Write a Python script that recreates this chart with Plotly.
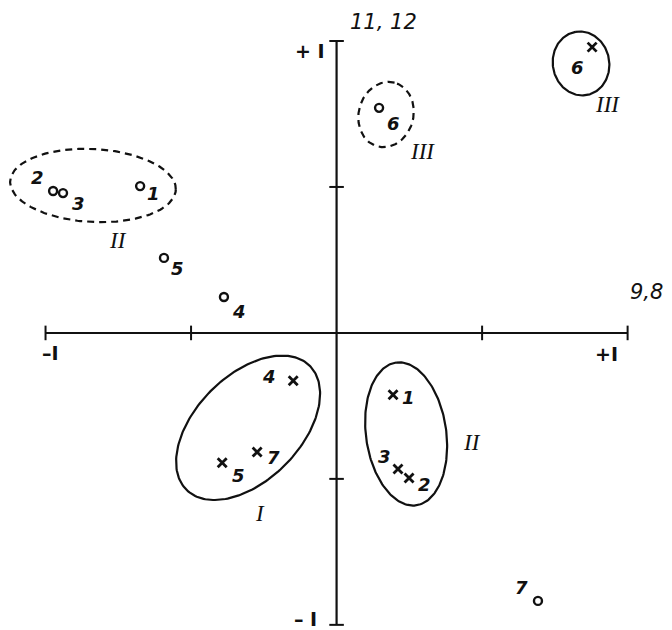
import numpy as np
import plotly.graph_objects as go

# Factor loadings (axis 9,8 horizontal, 11,12 vertical)
point_ids = ["1", "2", "3", "4", "5", "6", "7"]
circle_x = [-0.675, -0.974, -0.940, -0.387, -0.593, 0.146, 0.692]
circle_y = [0.503, 0.486, 0.479, 0.123, 0.257, 0.771, -0.918]
cross_x = [0.194, 0.249, 0.211, -0.149, -0.393, 0.878, -0.273]
cross_y = [-0.212, -0.497, -0.466, -0.164, -0.445, 0.979, -0.408]

# groups: (centre x, centre y, semi-axis a, semi-axis b, angle deg, dashed)
groups = [
    (-0.837, 0.505, 0.285, 0.125, -3, True),    # II (circles)
    (0.170, 0.748, 0.113, 0.094, 75, True),     # III (circles)
    (0.840, 0.923, 0.110, 0.097, 100, False),   # III (crosses)
    (-0.304, -0.325, 0.300, 0.180, 45, False),  # I (crosses)
    (0.239, -0.346, 0.247, 0.138, 98, False),   # II (crosses)
]
group_names = ["II", "III", "III", "I", "II"]
group_label_x = [-0.750, 0.296, 0.932, -0.264, 0.465]
group_label_y = [0.318, 0.620, 0.781, -0.620, -0.376]

# pixel offsets of number labels (style only)
circle_off = [(13, -7), (-16, 14), (15, -10), (15, -14), (14, -11), (14, -16), (-16, 13)]
cross_off = [(15, -3), (15, -6), (-13, 12), (-24, 4), (16, -13), (-15, -20), (16, -5)]

fig = go.Figure()

ink = "#111111"

# axes drawn by hand
fig.add_trace(go.Scatter(x=[-1, 1], y=[0, 0], mode="lines",
                         line=dict(color=ink, width=2), hoverinfo="skip"))
fig.add_trace(go.Scatter(x=[0, 0], y=[-1, 1], mode="lines",
                         line=dict(color=ink, width=2.2), hoverinfo="skip"))
tk = 0.025
for t in [-1, -0.5, 0.5, 1]:
    fig.add_trace(go.Scatter(x=[t, t], y=[-tk, tk], mode="lines",
                             line=dict(color=ink, width=2), hoverinfo="skip"))
    fig.add_trace(go.Scatter(x=[-tk, tk], y=[t, t], mode="lines",
                             line=dict(color=ink, width=2), hoverinfo="skip"))

# group outlines
th = np.linspace(0, 2 * np.pi, 200)
for cx, cy, a, b, ang, dashed in groups:
    r = np.radians(ang)
    ex = cx + a * np.cos(th) * np.cos(r) - b * np.sin(th) * np.sin(r)
    ey = cy + a * np.cos(th) * np.sin(r) + b * np.sin(th) * np.cos(r)
    fig.add_trace(go.Scatter(x=ex, y=ey, mode="lines", hoverinfo="skip",
                             line=dict(color=ink, width=2.2,
                                       dash="7px,5px" if dashed else "solid")))

fig.add_trace(go.Scatter(x=circle_x, y=circle_y, mode="markers",
                         marker=dict(symbol="circle-open", size=8, color=ink,
                                     line=dict(width=2.4, color=ink))))
fig.add_trace(go.Scatter(x=cross_x, y=cross_y, mode="markers",
                         marker=dict(symbol="x-thin", size=9, color=ink,
                                     line=dict(width=2.8, color=ink))))

hand = dict(family="DejaVu Sans", size=18, color=ink, style="italic", weight="bold")
for i, pid in enumerate(point_ids):
    fig.add_annotation(x=circle_x[i], y=circle_y[i], text=pid, showarrow=False,
                       xshift=circle_off[i][0], yshift=circle_off[i][1], font=hand)
    fig.add_annotation(x=cross_x[i], y=cross_y[i], text=pid, showarrow=False,
                       xshift=cross_off[i][0], yshift=cross_off[i][1], font=hand)

roman = dict(family="Liberation Serif", size=23, color=ink, style="italic")
for name, gx, gy in zip(group_names, group_label_x, group_label_y):
    fig.add_annotation(x=gx, y=gy, text=name, showarrow=False, font=roman)

# axis captions and end values
big = dict(family="DejaVu Sans", size=21, color=ink, style="italic")
fig.add_annotation(x=0.16, y=1.065, text="11, 12", showarrow=False, font=big)
fig.add_annotation(x=1.065, y=0.14, text="9,8", showarrow=False, font=big)
val = dict(family="DejaVu Sans", size=19, color=ink, weight="bold")
fig.add_annotation(x=0, y=1, text="+ I", showarrow=False, xshift=-27, yshift=-10, font=val)
fig.add_annotation(x=0, y=-1, text="– I", showarrow=False, xshift=-31, yshift=6, font=val)
fig.add_annotation(x=-1, y=0, text="–I", showarrow=False, xshift=5, yshift=-20, font=val)
fig.add_annotation(x=1, y=0, text="+I", showarrow=False, xshift=-21, yshift=-21, font=val)

# ranges offset by the page's 8px body margin
fig.update_xaxes(range=[-1.129, 1.180], visible=False)
fig.update_yaxes(range=[-1.045, 1.113], visible=False)
fig.update_layout(width=672, height=630, showlegend=False,
                  margin=dict(l=0, r=0, t=0, b=0),
                  plot_bgcolor="white", paper_bgcolor="white")

fig.write_html("out.html")
